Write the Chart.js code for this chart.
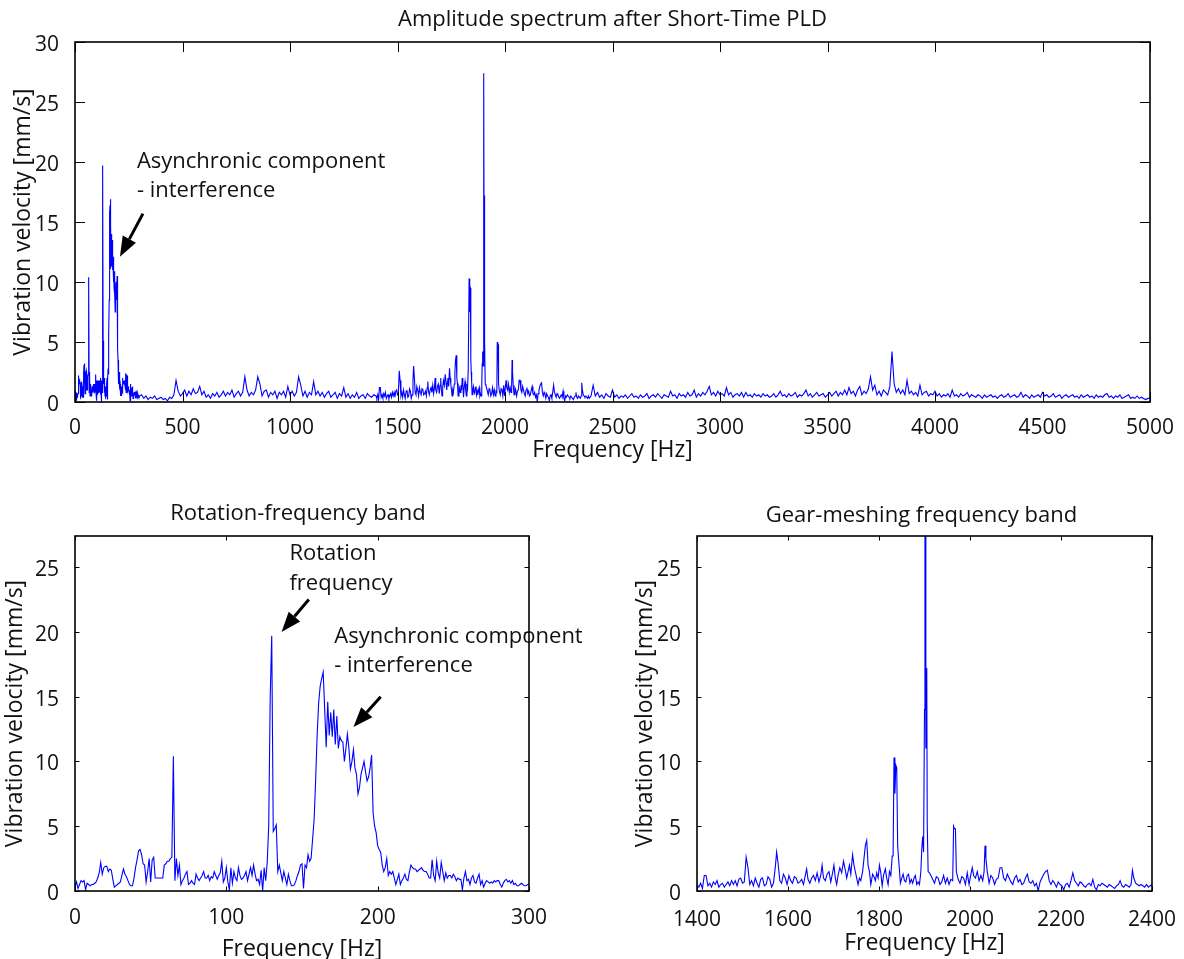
<!DOCTYPE html>
<html>
<head>
<meta charset="utf-8">
<script src="https://cdn.jsdelivr.net/npm/chart.js@4.4.1/dist/chart.umd.min.js"></script>
<style>
  html, body { margin: 0; padding: 0; background: #fff; }
  body { width: 1184px; height: 959px; position: relative; overflow: hidden; }
  canvas { position: absolute; }
</style>
</head>
<body>
<canvas id="cTop" width="1184" height="470" style="left:0;top:0;"></canvas>
<canvas id="cLow" width="592" height="489" style="left:0;top:470px;"></canvas>
<canvas id="cGear" width="592" height="489" style="left:592px;top:470px;"></canvas>
<script>
// ---------------- DATA ----------------
// Rotation-frequency band: 0..300 Hz, 1 Hz bins
const LOW_F0 = 0, LOW_DF = 1;
const lowVel = [
  0.3,0.7,0.2,0.5,0.8,0.7,0.8,0.1,0.6,0.5,
  0.4,0.5,0.5,0.6,0.7,1.0,1.4,2.2,1.3,1.8,
  1.9,1.9,1.5,1.7,1.6,0.9,0.3,0.4,0.5,0.6,
  0.7,1.2,1.7,1.3,1.1,0.8,0.5,0.4,0.4,1.0,
  1.8,2.4,3.1,3.2,2.8,2.1,2.0,0.7,1.5,2.5,
  0.7,2.4,2.6,1.0,1.0,1.0,1.0,1.0,1.0,2.0,
  2.1,2.3,2.3,2.5,2.6,10.4,0.8,2.5,1.2,2.0,
  0.5,0.8,1.0,1.3,1.5,0.5,0.6,0.8,0.6,0.5,
  1.3,1.0,0.8,1.0,1.2,1.5,1.0,1.0,1.2,0.8,
  1.1,1.0,1.5,1.2,0.9,1.2,1.4,2.3,0.7,1.0,
  1.8,0.7,0.1,1.8,0.6,1.5,1.0,0.8,1.8,1.2,
  0.9,1.0,1.2,1.5,0.8,1.3,1.8,1.2,2.0,1.3,
  0.8,0.9,0.5,1.6,0.0,1.8,0.8,2.2,5.0,15.0,
  19.7,4.6,4.8,5.1,1.5,2.0,1.4,0.8,1.5,1.0,
  0.5,1.3,0.8,0.4,0.4,0.5,0.8,1.2,1.5,2.0,
  2.1,0.2,2.0,1.8,2.8,2.3,2.5,4.0,5.5,8.5,
  12.0,14.5,15.8,16.4,16.9,14.0,11.1,14.6,12.0,13.8,
  11.9,14.0,11.3,13.5,11.0,11.9,11.6,11.5,10.0,11.0,
  12.1,11.0,9.4,10.0,10.9,9.5,9.0,7.5,8.0,9.0,
  9.5,10.0,9.2,8.5,8.8,9.5,10.5,6.0,5.0,4.5,
  3.5,3.2,3.0,2.0,1.5,1.8,2.5,1.2,1.5,1.3,
  1.5,1.0,0.5,0.9,1.3,0.5,0.8,1.0,1.3,0.9,
  0.8,1.5,2.0,1.8,1.7,1.7,1.5,1.6,1.7,1.8,
  1.6,1.5,1.5,1.3,1.0,1.0,2.4,1.2,0.8,2.3,
  1.4,1.0,2.2,1.5,0.8,1.4,1.0,1.2,1.2,1.0,
  1.3,1.1,0.8,1.0,0.9,0.9,0.1,1.0,1.5,0.8,
  0.9,0.5,1.0,1.2,0.7,0.6,1.0,1.3,0.5,0.8,
  0.3,0.6,0.8,0.7,0.6,0.7,0.6,0.8,0.7,0.8,
  0.8,0.5,0.3,0.6,0.8,0.9,0.7,0.8,0.6,0.8,
  0.5,0.6,0.4,0.4,0.5,0.6,0.5,0.4,0.4,0.5,
  0.5
];

// 310..1390 Hz, 10 Hz bins
const MID_F0 = 310, MID_DF = 10;
const midVel = [
  0.6,0.3,0.5,0.2,0.4,0.3,0.5,0.2,0.3,0.4,
  0.2,0.3,0.1,0.4,0.3,0.6,1.8,0.9,0.5,0.7,
  1.0,0.5,0.9,0.6,1.1,0.7,0.8,1.3,0.6,0.9,
  0.4,0.6,0.3,0.7,0.5,0.8,0.4,0.6,0.9,0.5,
  0.8,0.6,1.0,0.4,0.7,0.9,0.5,0.8,2.1,1.0,
  0.5,0.8,0.6,1.0,2.1,1.5,0.5,0.9,1.0,0.4,
  0.8,0.6,0.9,0.3,0.8,0.6,0.9,0.4,1.3,0.6,
  0.9,0.5,0.8,2.1,1.4,0.5,0.9,0.4,0.8,0.6,
  1.7,0.6,0.9,0.5,0.8,0.4,0.7,0.9,0.4,0.6,
  0.8,0.3,0.7,0.5,1.2,0.4,0.7,0.3,0.6,0.4,
  0.8,0.3,0.5,0.6,0.3,0.7,0.5,0.4,0.6
];

// Gear-meshing frequency band 1400..2400 Hz
const gearFreq = [
  1400,1404,1408,1412,1416,1420,1424,1428,1432,1436,1440,1444,1448,1452,1456,1460,1464,1468,1472,1476,
  1480,1484,1488,1492,1496,1500,1504,1508,1512,1516,1520,1524,1528,1532,1536,1540,1544,1548,1552,1556,
  1560,1564,1568,1572,1575,1578,1582,1586,1590,1594,1598,1602,1606,1610,1614,1618,1622,1626,1630,1634,
  1638,1641,1644,1648,1652,1656,1660,1664,1668,1672,1675,1678,1682,1686,1690,1694,1698,1701,1704,1707,
  1710,1714,1718,1722,1726,1729,1732,1735,1738,1742,1745,1748,1751,1754,1757,1760,1764,1767,1770,1773,
  1776,1779,1782,1786,1789,1792,1795,1798,1801,1804,1807,1810,1814,1817,1820,1823,1826,1829,1831,1833,
  1835,1837,1839,1841,1843,1845,1847,1850,1853,1856,1859,1862,1865,1868,1871,1874,1877,1880,1883,1886,
  1889,1892,1894,1896,1898,1900,1901,1902,1903,1904,1905,1906,1908,1911,1914,1918,1922,1926,1930,1934,
  1938,1942,1946,1950,1954,1958,1962,1964,1966,1968,1970,1974,1978,1982,1986,1990,1994,1998,2002,2005,
  2008,2012,2016,2020,2024,2028,2031,2033,2035,2038,2042,2046,2050,2054,2058,2062,2066,2070,2074,2078,
  2082,2086,2090,2094,2098,2102,2106,2110,2114,2118,2122,2126,2130,2134,2138,2142,2146,2150,2154,2158,
  2162,2166,2170,2174,2178,2182,2186,2190,2194,2198,2202,2206,2210,2214,2218,2222,2226,2230,2234,2238,
  2242,2246,2250,2254,2258,2262,2266,2270,2274,2278,2282,2286,2290,2294,2298,2302,2306,2310,2314,2318,
  2322,2326,2330,2334,2338,2342,2346,2350,2354,2357,2360,2364,2368,2372,2376,2380,2384,2388,2392,2396,
  2400
];
const gearVel = [
  0.5,0.3,0.6,0.2,1.2,1.2,0.4,0.6,0.3,0.7,0.5,0.8,0.3,0.5,0.6,0.3,0.5,0.7,0.4,0.8,
  0.5,0.8,0.4,0.9,1.0,0.6,0.7,2.6,1.8,0.5,0.8,0.4,1.0,0.6,0.3,0.9,1.0,0.4,0.5,1.1,
  0.9,0.3,0.6,1.8,3.0,2.2,0.8,0.6,1.3,1.0,0.5,1.2,0.8,0.6,1.1,1.0,0.6,0.7,0.9,0.5,
  1.2,1.7,0.9,0.6,1.0,1.2,0.8,1.4,0.7,1.2,2.0,1.0,0.8,1.3,1.5,0.7,1.4,2.0,1.0,0.5,
  1.2,1.8,1.4,2.3,1.6,1.0,1.5,2.0,1.3,2.8,2.0,1.5,1.0,0.5,1.0,0.8,1.5,2.5,3.5,3.9,
  2.0,1.5,0.5,1.3,1.1,0.8,1.4,1.0,2.0,1.4,0.4,1.2,1.7,1.0,0.5,1.5,1.2,2.7,2.7,10.3,
  7.5,9.7,9.5,3.5,2.5,1.6,0.6,1.0,1.3,0.8,0.7,1.2,1.3,0.6,0.9,0.6,1.0,1.2,0.5,0.7,
  0.5,1.5,3.2,4.2,3.0,14.0,27.4,27.4,11.0,17.2,17.0,5.2,1.5,1.4,1.2,0.9,0.6,1.1,1.0,0.5,
  0.7,1.2,0.6,1.0,0.5,0.9,0.8,5.0,4.8,4.8,1.5,0.9,0.6,1.1,1.0,0.5,1.4,0.5,1.3,1.8,
  1.2,1.0,1.5,0.8,1.2,0.8,1.5,3.5,2.5,1.5,0.6,1.2,1.0,0.5,0.9,1.0,1.8,1.8,1.0,0.8,
  1.3,1.0,0.7,0.5,1.0,1.2,0.7,0.9,0.5,0.6,1.0,1.3,0.7,0.6,0.8,0.4,0.6,0.0,0.7,1.0,
  1.3,1.5,1.6,0.8,0.5,0.8,0.6,0.3,0.7,0.5,0.4,0.1,0.5,0.6,0.3,0.8,1.4,0.8,0.6,0.4,
  0.7,0.6,0.4,0.3,0.5,0.6,0.4,0.9,0.3,0.1,0.5,0.4,0.6,0.5,0.4,0.3,0.5,0.4,0.3,0.2,
  0.4,0.5,0.8,0.4,0.3,0.5,0.4,0.3,0.5,1.6,1.0,0.6,0.5,0.4,0.5,0.4,0.3,0.5,0.3,0.4,
  0.5
];

// 2410..5000 Hz, 10 Hz bins
const HIGH_F0 = 2410, HIGH_DF = 10;
const highVel = [
  1.4,0.5,0.8,0.4,0.6,0.3,0.7,0.5,0.4,1.0,
  0.4,0.6,0.3,0.5,0.4,0.6,0.3,0.5,0.7,0.4,
  0.5,0.3,0.6,0.4,0.5,0.7,0.3,0.5,0.6,0.4,
  0.7,0.5,0.3,0.6,0.5,0.4,0.9,0.5,0.6,0.3,
  0.7,0.5,0.6,0.4,0.8,0.5,0.6,1.0,0.4,0.7,
  0.5,0.8,0.6,0.9,1.3,0.6,0.8,0.5,0.9,0.6,
  0.7,0.5,1.2,0.6,0.8,0.4,0.6,0.7,0.5,0.8,
  0.4,0.8,0.5,0.6,0.4,0.7,0.5,0.6,0.4,0.7,
  0.5,0.6,0.4,0.5,0.7,0.4,0.6,0.9,0.5,0.6,
  0.4,0.7,0.5,0.6,0.8,0.4,0.6,0.5,0.7,1.0,
  0.5,0.7,0.4,0.6,0.8,0.5,0.6,0.7,0.4,0.6,
  0.8,0.5,0.7,0.9,0.5,0.8,0.6,1.0,0.6,1.2,
  0.7,0.9,0.5,1.0,1.3,0.6,0.9,0.7,1.1,2.1,
  1.0,1.4,0.6,0.9,0.5,1.0,0.8,0.6,1.3,4.2,
  1.5,0.8,1.1,0.7,1.0,0.6,1.8,0.7,0.9,0.6,
  0.8,0.5,1.4,0.6,0.8,0.9,0.5,0.7,0.6,0.9,
  0.5,0.7,0.4,0.6,0.5,0.7,0.4,1.0,0.5,0.6,
  0.4,0.7,0.5,0.6,0.8,0.4,0.6,0.5,0.4,0.6,
  0.5,0.3,0.6,0.4,0.5,0.6,0.4,0.5,0.3,0.5,
  0.6,0.4,0.5,0.7,0.4,0.5,0.6,0.4,0.5,0.8,
  0.4,0.6,0.5,0.3,0.6,0.4,0.5,0.6,0.4,0.8,
  0.5,0.6,0.4,0.5,0.7,0.4,0.5,0.6,0.3,0.5,
  0.6,0.4,0.5,0.6,0.4,0.5,0.3,0.6,0.4,0.5,
  0.6,0.4,0.5,0.3,0.6,0.4,0.5,0.4,0.6,0.7,
  0.4,0.5,0.3,0.5,0.4,0.6,0.3,0.4,0.5,0.6,
  0.3,0.4,0.3,0.5,0.3,0.4,0.3,0.2,0.3,0.3
];

const titles = {
  top: 'Amplitude spectrum after Short-Time PLD',
  low: 'Rotation-frequency band',
  gear: 'Gear-meshing frequency band'
};
const xLabel = 'Frequency [Hz]';
const yLabel = 'Vibration velocity [mm/s]';

// ---------------- BUILD ----------------
const binned = (vals, f0, df) => vals.map((v, i) => ({x: f0 + i * df, y: v}));
const lowPts = binned(lowVel, LOW_F0, LOW_DF);
const midPts = binned(midVel, MID_F0, MID_DF);
const gearPts = gearFreq.map((f, i) => ({x: f, y: gearVel[i]}));
const highPts = binned(highVel, HIGH_F0, HIGH_DF);
const fullPts = lowPts.concat(midPts, gearPts, highPts);

const FONT = "'Open Sans', 'DejaVu Sans', sans-serif";
const TXT = '#111';

function drawArrow(ctx, x1, y1, x2, y2, headLen, headW, lw) {
  const ang = Math.atan2(y2 - y1, x2 - x1);
  const bx = x2 - headLen * Math.cos(ang), by = y2 - headLen * Math.sin(ang);
  ctx.lineWidth = lw;
  ctx.beginPath(); ctx.moveTo(x1, y1); ctx.lineTo(bx, by); ctx.stroke();
  ctx.beginPath();
  ctx.moveTo(x2, y2);
  ctx.lineTo(bx + headW / 2 * Math.sin(ang), by - headW / 2 * Math.cos(ang));
  ctx.lineTo(bx - headW / 2 * Math.sin(ang), by + headW / 2 * Math.cos(ang));
  ctx.closePath(); ctx.fill();
}

const matlabPlugin = {
  id: 'matlab',
  afterDatasetsDraw(chart, args, o) {
    const {ctx, chartArea: a, scales: {x, y}} = chart;
    ctx.save();
    ctx.strokeStyle = '#000';
    ctx.fillStyle = '#000';
    ctx.lineWidth = 1;
    const tl = o.tickLen;
    ctx.beginPath();
    x.ticks.forEach(t => {
      const px = Math.round(x.getPixelForValue(t.value)) + 0.5;
      ctx.moveTo(px, a.bottom); ctx.lineTo(px, a.bottom - tl);
      ctx.moveTo(px, a.top); ctx.lineTo(px, a.top + tl);
    });
    y.ticks.forEach(t => {
      const py = Math.round(y.getPixelForValue(t.value)) + 0.5;
      ctx.moveTo(a.left, py); ctx.lineTo(a.left + tl, py);
      ctx.moveTo(a.right, py); ctx.lineTo(a.right - tl, py);
    });
    ctx.stroke();
    ctx.lineWidth = 1.6;
    ctx.strokeRect(a.left, a.top, a.right - a.left, a.bottom - a.top);
    // title
    ctx.fillStyle = TXT;
    ctx.font = o.titleSize + 'px ' + FONT;
    ctx.textAlign = 'center';
    ctx.textBaseline = 'middle';
    ctx.fillText(o.title, (a.left + a.right) / 2 - (o.titleShift || 0), o.titleY);
    // annotations
    ctx.font = o.annSize + 'px ' + FONT;
    ctx.textAlign = 'left';
    (o.texts || []).forEach(t => {
      ctx.fillText(t.text, x.getPixelForValue(t.x), y.getPixelForValue(t.y));
    });
    ctx.fillStyle = '#000';
    ctx.strokeStyle = '#000';
    (o.arrows || []).forEach(r => {
      drawArrow(ctx, x.getPixelForValue(r.x1), y.getPixelForValue(r.y1),
                x.getPixelForValue(r.x2), y.getPixelForValue(r.y2), 20, 15, 3);
    });
    ctx.restore();
  }
};

function makeChart(id, pts, cfg) {
  return new Chart(document.getElementById(id), {
    type: 'line',
    data: { datasets: [{ data: pts, borderColor: '#0000ff', borderWidth: 1.1,
      pointRadius: 0, tension: 0, fill: false }] },
    options: {
      responsive: false, animation: false, devicePixelRatio: 1,
      layout: { padding: cfg.padding },
      plugins: { legend: { display: false }, tooltip: { enabled: false },
        matlab: cfg.matlab },
      scales: {
        x: {
          type: 'linear', min: cfg.xMin, max: cfg.xMax,
          grid: { display: false }, border: { display: false },
          ticks: { stepSize: cfg.xStep, includeBounds: false, maxRotation: 0, autoSkip: false,
            callback: v => String(v),
            color: TXT, font: { family: FONT, size: 21 }, padding: cfg.xTickPad },
          title: { display: true, text: xLabel, color: TXT,
            font: { family: FONT, size: 23 }, padding: { top: 0, bottom: cfg.xTitlePad } },
          afterFit: s => { s.height = cfg.xH; }
        },
        y: {
          type: 'linear', min: 0, max: cfg.yMax,
          grid: { display: false }, border: { display: false },
          ticks: { stepSize: 5, includeBounds: false, color: TXT,
            callback: v => String(v), labelOffset: 3,
            font: { family: FONT, size: 21 }, padding: 8 },
          title: { display: true, text: yLabel, color: TXT,
            font: { family: FONT, size: 23 }, padding: { top: cfg.yTitlePad, bottom: 0 } },
          afterFit: s => { s.width = cfg.yW; }
        }
      }
    },
    plugins: [matlabPlugin]
  });
}

makeChart('cTop', fullPts, {
  padding: { top: 42, right: 34, left: 0, bottom: 0 },
  xMin: 0, xMax: 5000, xStep: 500, yMax: 30,
  xH: 68, yW: 75, xTickPad: 5, xTitlePad: 6, yTitlePad: 10,
  matlab: { tickLen: 10, title: titles.top, titleY: 20, titleSize: 22, annSize: 22,
    texts: [ { x: 288, y: 20.0, text: 'Asynchronic component' },
             { x: 288, y: 17.6, text: '- interference' } ],
    arrows: [ { x1: 316, y1: 15.7, x2: 209, y2: 12.1 } ] }
});

makeChart('cLow', lowPts, {
  padding: { top: 66, right: 63, left: 0, bottom: 0 },
  xMin: 0, xMax: 300, xStep: 100, yMax: 27.4,
  xH: 68, yW: 75, xTickPad: 6, xTitlePad: -4, yTitlePad: 2,
  matlab: { tickLen: 4.5, title: titles.low, titleY: 44, titleSize: 22, annSize: 22, titleShift: 4,
    texts: [ { x: 141.7, y: 26.0, text: 'Rotation' },
             { x: 141.7, y: 23.7, text: 'frequency' },
             { x: 171.3, y: 19.6, text: 'Asynchronic component' },
             { x: 171.3, y: 17.35, text: '- interference' } ],
    arrows: [ { x1: 154.5, y1: 22.5, x2: 136.5, y2: 20.0 },
              { x1: 202, y1: 15.0, x2: 184, y2: 12.65 } ] }
});

makeChart('cGear', gearPts, {
  padding: { top: 66, right: 32, left: 0, bottom: 0 },
  xMin: 1400, xMax: 2400, xStep: 200, yMax: 27.4,
  xH: 68, yW: 105, xTickPad: 8, xTitlePad: 2, yTitlePad: 40,
  matlab: { tickLen: 4.5, title: titles.gear, titleY: 46, titleSize: 22, annSize: 22, titleShift: 3,
    texts: [], arrows: [] }
});
</script>
</body>
</html>
